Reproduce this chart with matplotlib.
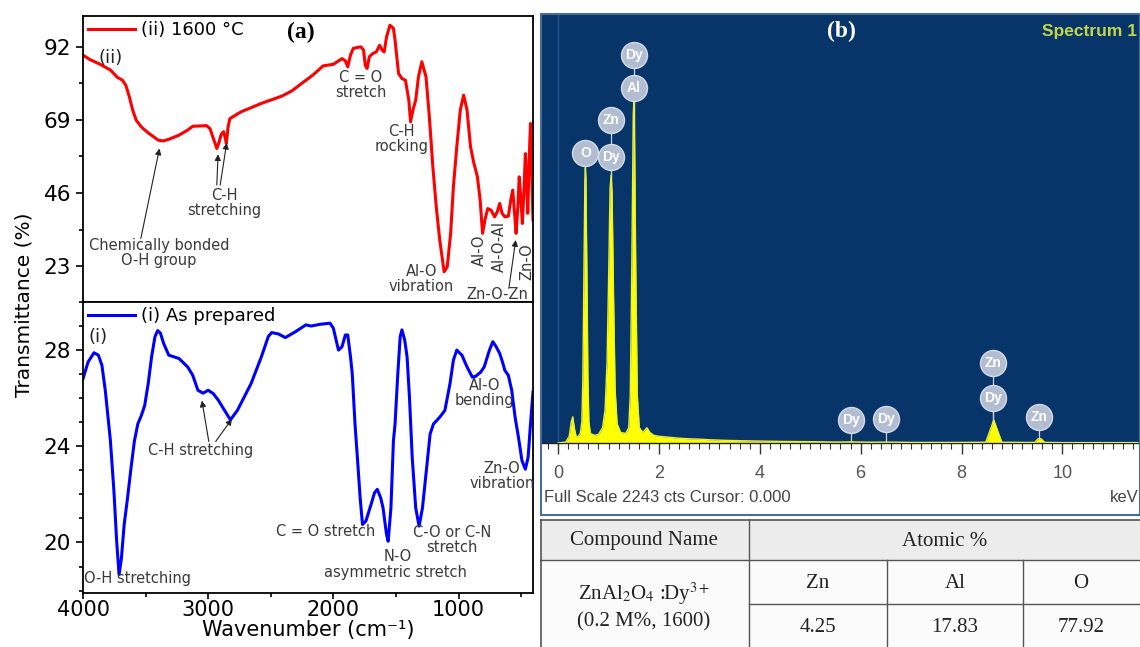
import matplotlib
matplotlib.use("Agg")
import matplotlib.pyplot as plt
from matplotlib.patches import Rectangle
from matplotlib.ticker import MultipleLocator, FixedLocator

plt.rcParams['font.family'] = 'DejaVu Sans'
plt.rcParams['lines.solid_joinstyle'] = 'round'

# ---------------- FTIR data ----------------
wn_1600 = [4000, 3945, 3863, 3781, 3726, 3685, 3658, 3630, 3603, 3575, 3534, 3479, 3397, 3356,
           3315, 3233, 3164, 3123, 3014, 2986, 2959, 2931, 2912, 2896, 2877, 2863, 2855, 2841,
           2827, 2740, 2575, 2411, 2329, 2246, 2164, 2082, 2000, 1931, 1904, 1885, 1863, 1841,
           1808, 1781, 1759, 1745, 1731, 1712, 1685, 1657, 1630, 1611, 1594, 1575, 1548, 1520,
           1507, 1479, 1452, 1424, 1397, 1383, 1364, 1342, 1320, 1293, 1260, 1233, 1205, 1178,
           1150, 1115, 1090, 1063, 1041, 1014, 986, 959, 932, 904, 877, 849, 827, 808, 789, 767,
           740, 712, 690, 671, 652, 630, 602, 583, 567, 550, 540, 526, 515, 501, 490, 476, 466,
           455, 447, 436, 425, 416, 405]
tr_1600 = [89.4, 88.0, 86.5, 84.7, 82.4, 81.5, 79.9, 76.3, 72.1, 68.9, 66.8, 64.9, 62.6, 62.4,
           62.9, 64.2, 65.8, 67.0, 67.2, 66.3, 63.2, 60.0, 62.1, 64.5, 65.3, 63.2, 61.6, 66.8,
           69.4, 71.5, 74.2, 76.5, 78.2, 80.7, 83.1, 86.0, 86.5, 88.3, 87.6, 85.7, 89.4, 91.5,
           91.8, 92.0, 91.0, 86.2, 85.2, 88.9, 89.9, 90.4, 92.5, 91.0, 90.4, 95.1, 98.8, 97.8,
           94.1, 83.6, 82.0, 81.5, 75.2, 68.4, 72.1, 75.2, 82.6, 87.3, 82.6, 70.0, 54.2, 41.7,
           31.2, 21.2, 22.8, 33.3, 47.9, 60.5, 72.1, 76.8, 72.1, 60.5, 55.3, 51.1, 43.7, 33.3,
           37.5, 41.1, 40.6, 38.5, 40.1, 42.7, 39.6, 38.5, 38.7, 43.7, 46.9, 38.5, 33.3, 41.7,
           51.1, 43.7, 36.4, 47.9, 58.4, 47.9, 39.6, 56.3, 67.9, 54.2, 37.5]

wn_prep = [4000, 3959, 3912, 3877, 3849, 3822, 3781, 3753, 3731, 3712, 3693, 3671, 3644, 3616,
           3589, 3562, 3534, 3507, 3479, 3452, 3425, 3403, 3381, 3356, 3315, 3274, 3233, 3164,
           3123, 3082, 3041, 3000, 2959, 2918, 2877, 2822, 2767, 2712, 2657, 2575, 2520, 2493,
           2438, 2384, 2301, 2219, 2178, 2109, 2027, 2000, 1959, 1931, 1904, 1885, 1863, 1849,
           1827, 1808, 1786, 1767, 1740, 1699, 1671, 1649, 1622, 1603, 1575, 1562, 1540, 1520,
           1507, 1485, 1466, 1452, 1430, 1411, 1392, 1370, 1342, 1315, 1288, 1260, 1227, 1200,
           1150, 1109, 1068, 1041, 1014, 973, 932, 890, 863, 822, 795, 753, 726, 699, 671, 649,
           630, 602, 575, 548, 521, 493, 466, 444, 425, 405]
tr_prep = [26.81, 27.51, 27.89, 27.79, 27.37, 26.33, 24.23, 22.14, 20.05, 18.66, 19.35, 20.75,
           21.86, 23.12, 24.23, 24.93, 25.28, 25.70, 26.61, 27.72, 28.56, 28.81, 28.70, 28.28,
           27.79, 27.72, 27.65, 27.30, 26.95, 26.33, 26.21, 26.33, 26.19, 25.91, 25.56, 25.10,
           25.49, 26.05, 26.61, 27.72, 28.56, 28.73, 28.67, 28.52, 28.77, 29.05, 29.00, 29.07,
           29.12, 28.91, 28.00, 28.14, 28.63, 28.63, 27.72, 27.02, 24.93, 23.54, 21.86, 20.75,
           20.89, 21.58, 22.07, 22.21, 21.86, 21.44, 20.33, 20.05, 21.44, 24.23, 24.93, 27.02,
           28.56, 28.84, 28.42, 27.72, 26.05, 23.54, 21.44, 20.68, 21.44, 22.84, 24.51, 24.93,
           25.21, 25.49, 26.61, 27.58, 28.00, 27.79, 27.30, 26.88, 26.91, 27.09, 27.30, 28.00,
           28.35, 28.14, 27.86, 27.51, 27.16, 26.95, 26.33, 25.21, 24.37, 23.40, 23.05, 23.54,
           24.93, 26.26]

# ---------------- EDS data ----------------
kev = [0.0, 0.15, 0.22, 0.26, 0.29, 0.32, 0.36, 0.40, 0.44, 0.47, 0.49, 0.51, 0.53, 0.54,
       0.55, 0.57, 0.59, 0.61, 0.64, 0.72, 0.80, 0.88, 0.93, 0.97, 1.00, 1.03, 1.05, 1.07,
       1.10, 1.13, 1.17, 1.24, 1.34, 1.40, 1.43, 1.46, 1.49, 1.50, 1.51, 1.54, 1.57, 1.61,
       1.68, 1.76, 1.82, 1.90, 2.0, 2.2, 2.4, 2.6, 2.8, 3.0, 3.3, 3.6, 4.0, 4.5, 5.0, 5.5,
       5.8, 6.2, 6.5, 7.0, 7.5, 8.0, 8.48, 8.64, 8.80, 9.2, 9.45, 9.52, 9.58, 9.65, 10.0, 11.5]
cts = [0, 5, 35, 110, 137, 80, 30, 35, 50, 110, 330, 850, 1370, 1440,
       1390, 900, 350, 110, 50, 40, 45, 80, 170, 420, 850, 1330, 1400, 1300,
       750, 280, 100, 55, 50, 80, 250, 900, 1720, 1780, 1720, 900, 250, 80,
       55, 80, 55, 40, 35, 30, 25, 22, 20, 17, 14, 12, 10, 8, 7, 5,
       6, 4, 5, 3, 3, 3, 4, 120, 4, 3, 3, 22, 22, 3, 2, 2]
full_scale = 2243

peak_el = ['O', 'Dy', 'Zn', 'Al', 'Dy', 'Dy', 'Dy', 'Dy', 'Zn', 'Zn']
peak_kev = [0.54, 1.05, 1.05, 1.50, 1.50, 5.80, 6.50, 8.63, 8.63, 9.54]
peak_lvl = [1516, 1495, 1689, 1856, 2029, 120, 125, 235, 418, 136]

# ---------------- table ----------------
compound = ['ZnAl$_2$O$_4$ :Dy$^{3+}$', '(0.2 M%, 1600)']
elements = ['Zn', 'Al', 'O']
atomic_pct = ['4.25', '17.83', '77.92']

W, H = 1140, 647
fig = plt.figure(figsize=(W / 100, H / 100), dpi=100)


def fx(px):
    return px / W


def fy(py):
    return 1 - py / H


ann = dict(fontsize=10.5, color='#3a3a3a')
arrow = dict(arrowstyle='-|>', color='#222222', lw=0.8, mutation_scale=9, shrinkA=0, shrinkB=0)

# ----- top panel (ii) -----
ax1 = fig.add_axes([fx(83), fy(302), fx(533 - 83), (302 - 16) / H])
ax1.plot(wn_1600, tr_1600, color='#ff0000', lw=2.2, label='(ii) 1600 \u00b0C')
ax1.set_xlim(4000, 405)
ax1.set_ylim(11.7, 101.7)
ax1.yaxis.set_major_locator(FixedLocator([23, 46, 69, 92]))
ax1.yaxis.set_minor_locator(FixedLocator([34.5, 57.5, 80.5]))
ax1.set_xticks([])
ax1.tick_params(axis='y', which='major', direction='out', length=5, width=1.2, labelsize=15.5)
ax1.tick_params(axis='y', which='minor', direction='out', length=3, width=1.2)
ax1.legend(loc='upper left', frameon=False, fontsize=13, handlelength=2.6,
           handletextpad=0.3, borderaxespad=0.1, borderpad=0.2)
ax1.text(3782, 88.4, '(ii)', fontsize=13, ha='center', va='center', color='#222222')
ax1.text(0.484, 0.944, '(a)', transform=ax1.transAxes, fontsize=17, fontweight='bold',
         family='Liberation Serif', ha='center', va='center')
ax1.text(1782, 79.9, 'C = O\nstretch', ha='center', va='center', linespacing=1.0, **ann)
ax1.text(1453, 63.0, 'C-H\nrocking', ha='center', va='center', linespacing=1.0, **ann)
ax1.text(2871, 42.7, 'C-H\nstretching', ha='center', va='center', linespacing=1.0, **ann)
ax1.annotate('', xy=(2921, 58.2), xytext=(2931, 48.5), arrowprops=arrow)
ax1.annotate('', xy=(2852, 61.8), xytext=(2904, 48.5), arrowprops=arrow)
ax1.text(3394, 27.0, 'Chemically bonded\nO-H group', ha='center', va='center',
         linespacing=1.0, **ann)
ax1.annotate('', xy=(3389, 60.0), xytext=(3538, 31.7), arrowprops=arrow)
ax1.text(1295, 18.9, 'Al-O\nvibration', ha='center', va='center', linespacing=1.0, **ann)
ax1.text(832, 28.0, 'Al-O', rotation=90, ha='center', va='center', **ann)
ax1.text(675, 29.1, 'Al-O-Al', rotation=90, ha='center', va='center', **ann)
ax1.text(455, 24.3, 'Zn-O', rotation=90, ha='center', va='center', **ann)
ax1.text(694, 14.2, 'Zn-O-Zn', ha='center', va='center', **ann)
ax1.annotate('', xy=(543, 31.2), xytext=(598, 16.0), arrowprops=arrow)

# ----- bottom panel (i) -----
ax2 = fig.add_axes([fx(83), fy(593), fx(533 - 83), (593 - 302) / H])
ax2.plot(wn_prep, tr_prep, color='#0000ff', lw=2.2, label='(i) As prepared')
ax2.set_xlim(4000, 405)
ax2.set_ylim(17.9, 30.0)
ax2.yaxis.set_major_locator(FixedLocator([20, 24, 28]))
ax2.yaxis.set_minor_locator(MultipleLocator(1))
ax2.xaxis.set_major_locator(FixedLocator([4000, 3000, 2000, 1000]))
ax2.xaxis.set_minor_locator(FixedLocator([3500, 2500, 1500, 500]))
ax2.tick_params(axis='y', which='major', direction='out', length=5, width=1.2, labelsize=15.5)
ax2.tick_params(axis='x', which='major', direction='out', length=4, width=1.2, labelsize=15,
                pad=1)
ax2.tick_params(which='minor', direction='out', length=3, width=1.2)
ax2.legend(loc='upper left', frameon=False, fontsize=13, handlelength=2.6,
           handletextpad=0.3, borderaxespad=0.1, borderpad=0.2)
ax2.text(3877, 28.54, '(i)', fontsize=13, ha='center', va='center', color='#222222')
ax2.text(3058, 23.82, 'C-H stretching', ha='center', va='center', **ann)
ax2.annotate('', xy=(3050, 25.9), xytext=(2995, 24.2), arrowprops=arrow)
ax2.annotate('', xy=(2810, 25.14), xytext=(2940, 24.2), arrowprops=arrow)
ax2.text(3989, 18.5, 'O-H stretching', ha='left', va='center', **ann)
ax2.text(2058, 20.47, 'C = O stretch', ha='center', va='center', **ann)
ax2.text(1485, 19.42, 'N-O', ha='center', va='center', **ann)
ax2.text(1500, 18.77, 'asymmetric stretch', ha='center', va='center', **ann)
ax2.text(1050, 20.1, 'C-O or C-N\nstretch', ha='center', va='center', linespacing=1.0, **ann)
ax2.text(791, 26.2, 'Al-O\nbending', ha='center', va='center', linespacing=1.0, **ann)
ax2.text(654, 22.77, 'Zn-O\nvibration', ha='center', va='center', linespacing=1.0, **ann)
ax2.set_xlabel('Wavenumber (cm\u207b\u00b9)', fontsize=15, labelpad=0)

for ax in (ax1, ax2):
    for s in ax.spines.values():
        s.set_linewidth(1.3)

fig.text(0.021, fy(305), 'Transmittance (%)', rotation=90, ha='center', va='center',
         fontsize=14.5)

# ----- EDS spectrum (b) -----
narrow = ['Liberation Sans Narrow', 'Liberation Sans', 'DejaVu Sans']
ax3 = fig.add_axes([fx(542), fy(443), fx(1140 - 542), (443 - 14) / H])
ax3.set_facecolor('#07356a')
ax3.set_xlim(-0.32, 11.54)
ax3.set_ylim(0, full_scale)
ax3.axvline(0, color='#24508a', lw=1.0, zorder=1)
for e, lvl in zip(peak_kev, peak_lvl):
    ax3.plot([e, e], [0, lvl], color='#c9d1e0', lw=0.9, zorder=1)
ax3.fill_between(kev, cts, 0, color='#ffff00', lw=0, zorder=2)
ax3.plot(kev, cts, color='#e8f03a', lw=1.0, zorder=3)
ax3.scatter(peak_kev, peak_lvl, s=350, color='#b3bdd2', edgecolors='#d5dbe7',
            linewidths=1.0, zorder=5)
for el, e, lvl in zip(peak_el, peak_kev, peak_lvl):
    ax3.text(e, lvl, el, color='white', fontsize=10, fontweight='bold', ha='center',
             va='center', family=narrow, zorder=6)
for s in ['top', 'left', 'right']:
    ax3.spines[s].set_visible(False)
ax3.spines['bottom'].set_color('#222222')
ax3.spines['bottom'].set_linewidth(1.0)
ax3.set_yticks([])
ax3.xaxis.set_major_locator(MultipleLocator(2))
ax3.xaxis.set_minor_locator(MultipleLocator(0.2))
ax3.tick_params(axis='x', which='major', direction='out', length=8, width=1.0,
                color='#333333', labelsize=13, labelcolor='#555555', pad=8)
ax3.tick_params(axis='x', which='minor', direction='out', length=4, width=0.8,
                color='#333333')
for lab in ax3.get_xticklabels():
    lab.set_family(narrow)
ax3.text(0.5, 0.96, '(b)', transform=ax3.transAxes, color='white', fontsize=17,
         fontweight='bold', family='Liberation Serif', ha='center', va='center')
ax3.text(0.995, 0.96, 'Spectrum 1', transform=ax3.transAxes, color='#c2d64a', fontsize=12.5,
         fontweight='bold', family=narrow, ha='right', va='center')
fig.text(fx(544), fy(498), 'Full Scale 2243 cts Cursor: 0.000', color='#444444',
         fontsize=12, family=narrow, ha='left', va='center')
fig.text(fx(1139), fy(498), 'keV', color='#444444', fontsize=12, family=narrow,
         ha='right', va='center')
fig.add_artist(Rectangle((fx(541), fy(515)), fx(1140 - 541), (515 - 14) / H,
                         transform=fig.transFigure, fill=False, ec='#4c6c94', lw=1.5))

# ----- table -----
ax4 = fig.add_axes([fx(540), 0, fx(600), (647 - 519) / H])
ax4.set_xlim(540, 1140)
ax4.set_ylim(647, 519)
ax4.axis('off')
ax4.add_patch(Rectangle((540, 519), 600, 41, color='#ececec', lw=0))
ax4.add_patch(Rectangle((540, 560), 600, 87, color='#fbfbfb', lw=0))
lc = '#555555'
ax4.plot([540, 1140], [519.5, 519.5], color=lc, lw=1.2)
ax4.plot([540, 1140], [560, 560], color=lc, lw=1.0)
ax4.plot([749, 1140], [604, 604], color=lc, lw=1.0)
ax4.plot([541, 541], [519, 647], color=lc, lw=1.2)
ax4.plot([749, 749], [519, 647], color=lc, lw=1.0)
ax4.plot([887, 887], [560, 647], color=lc, lw=1.0)
ax4.plot([1023, 1023], [560, 647], color=lc, lw=1.0)
serif = dict(family='Liberation Serif', math_fontfamily='stix', fontsize=15,
             ha='center', va='center', color='#222222')
ax4.text(644, 541, 'Compound Name', **serif)
ax4.text(945, 541, 'Atomic %', **serif)
ax4.text(644, 594, compound[0], **serif)
ax4.text(644, 622, compound[1], **serif)
for cx, el, val in zip([818, 955, 1081], elements, atomic_pct):
    ax4.text(cx, 584, el, **serif)
    ax4.text(cx, 628, val, **serif)

fig.savefig('out.png', dpi=100)
